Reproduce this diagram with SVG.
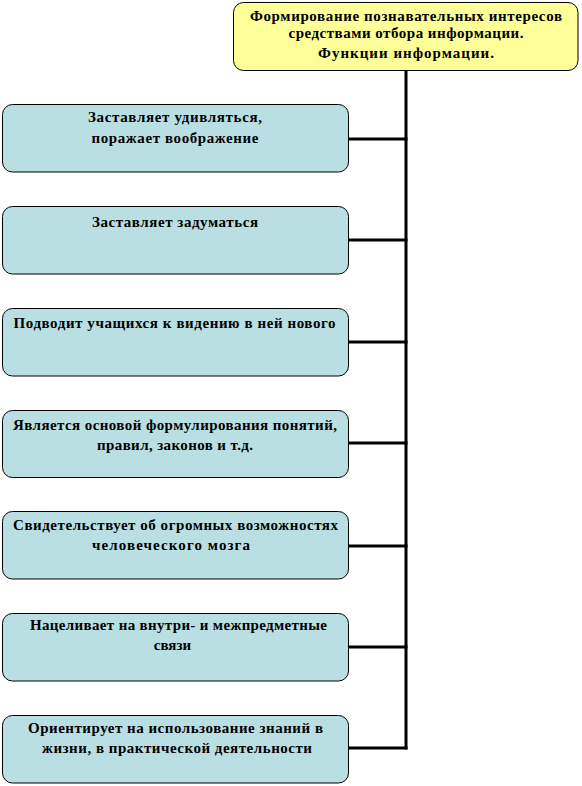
<svg xmlns="http://www.w3.org/2000/svg" width="582" height="786" viewBox="0 0 582 786">
<style>
.bg{fill:#ffffff}
.top{fill:#ffff99;stroke:#000;stroke-width:1}
.box{fill:#b9dfe2;stroke:#000;stroke-width:1}
.t{font-family:"Liberation Serif","Times New Roman",serif;font-weight:bold;font-size:15px;fill:#000;text-anchor:middle}
.c{stroke:#000;stroke-width:3;fill:none}
</style>
<rect class="bg" x="0" y="0" width="582" height="786"/>
<g id="connectors">
<line class="c" x1="406" y1="70" x2="406" y2="749.5"/>
<line class="c" x1="348" y1="139" x2="407.5" y2="139"/>
<line class="c" x1="348" y1="240" x2="407.5" y2="240"/>
<line class="c" x1="348" y1="342" x2="407.5" y2="342"/>
<line class="c" x1="348" y1="443" x2="407.5" y2="443"/>
<line class="c" x1="348" y1="546" x2="407.5" y2="546"/>
<line class="c" x1="348" y1="647" x2="407.5" y2="647"/>
<line class="c" x1="348" y1="748" x2="407.5" y2="748"/>
</g>
<g id="root">
<rect class="top" x="233.5" y="2.5" width="344.5" height="68" rx="10"/>
<text class="t" x="406" y="20.5" textLength="312" lengthAdjust="spacing">Формирование познавательных интересов</text>
<text class="t" x="406" y="37.5" textLength="235" lengthAdjust="spacing">средствами отбора информации.</text>
<text class="t" x="406" y="57.5" textLength="176" lengthAdjust="spacing">Функции информации.</text>
</g>
<g id="n1">
<rect class="box" x="2.5" y="104.5" width="346" height="67.5" rx="10"/>
<text class="t" x="175" y="122" textLength="174" lengthAdjust="spacing">Заставляет удивляться,</text>
<text class="t" x="175" y="142.5" textLength="167" lengthAdjust="spacing">поражает воображение</text>
</g>
<g id="n2">
<rect class="box" x="2.5" y="206.5" width="346" height="67.5" rx="10"/>
<text class="t" x="175" y="226.5" textLength="166" lengthAdjust="spacing">Заставляет задуматься</text>
</g>
<g id="n3">
<rect class="box" x="2.5" y="308.5" width="346" height="67.5" rx="10"/>
<text class="t" x="174.5" y="327.5" textLength="322" lengthAdjust="spacing">Подводит учащихся к видению в ней нового</text>
</g>
<g id="n4">
<rect class="box" x="2.5" y="410.5" width="346" height="67" rx="10"/>
<text class="t" x="175" y="430" textLength="324" lengthAdjust="spacing">Является основой формулирования понятий,</text>
<text class="t" x="175" y="450" textLength="156" lengthAdjust="spacing">правил, законов и т.д.</text>
</g>
<g id="n5">
<rect class="box" x="2.5" y="511.5" width="346" height="67.5" rx="10"/>
<text class="t" x="175.5" y="530" textLength="325" lengthAdjust="spacing">Свидетельствует об огромных возможностях</text>
<text class="t" x="171" y="550" textLength="158" lengthAdjust="spacing">человеческого мозга</text>
</g>
<g id="n6">
<rect class="box" x="2.5" y="613.5" width="346" height="67.5" rx="10"/>
<text class="t" x="178.5" y="629.5" textLength="297" lengthAdjust="spacing">Нацеливает на внутри- и межпредметные</text>
<text class="t" x="172.5" y="650">связи</text>
</g>
<g id="n7">
<rect class="box" x="2.5" y="715.5" width="346" height="67.5" rx="10"/>
<text class="t" x="175.5" y="733" textLength="295" lengthAdjust="spacing">Ориентирует на использование знаний в</text>
<text class="t" x="177" y="753" textLength="270" lengthAdjust="spacing">жизни, в практической деятельности</text>
</g>
</svg>
